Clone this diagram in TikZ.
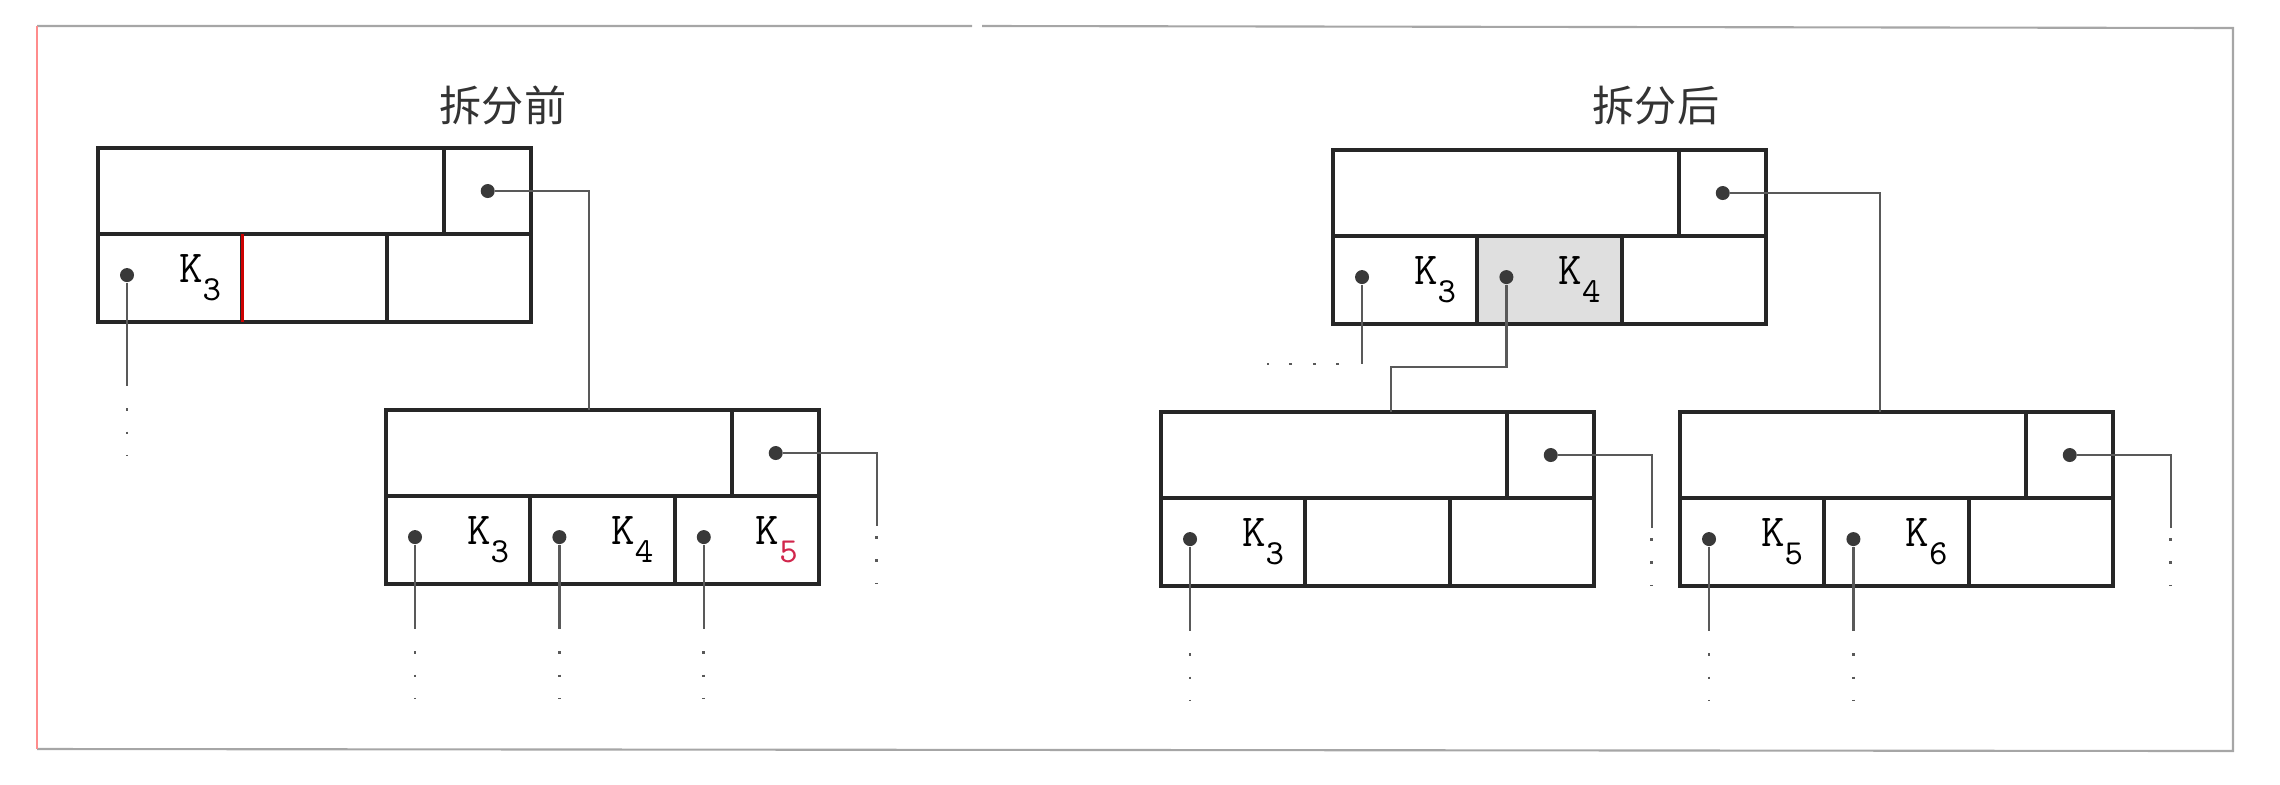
\documentclass[tikz,border=0pt]{standalone}
\usepackage{fontspec}
\usepackage{xcolor}
\newfontfamily\cjk{Noto Sans CJK SC}
\definecolor{keyred}{rgb}{0.82,0.15,0.30}
\definecolor{linkgray}{gray}{0.35}
\newcommand\kk[2][black]{{\ttfamily\fontsize{13}{13}\selectfont K\raisebox{-5.2pt}{\fontsize{10}{10}\selectfont\color{#1}#2}}}

\begin{document}
\begin{tikzpicture}[x=0.01cm, y=-0.01cm,
    cell/.style={draw=black!85, line width=1.1pt, inner sep=0pt, outer sep=0pt, anchor=north west},
    dot/.style={circle, fill=gray!45!black, inner sep=0pt, minimum size=0.14cm},
    keylab/.style={anchor=base, inner sep=0pt},
    ptr/.style={draw=linkgray, line width=0.7pt},
    tail/.style={draw=linkgray, line width=0.8pt, dash pattern=on 0.8pt off 5.86pt},
    title/.style={font=\cjk\fontsize{12}{12}\selectfont, text=black!80}]
\useasboundingbox (0,0) rectangle (2280,784);

% frame
\draw[gray!70, line width=0.6pt] (37,26) -- (972,26) (982,26) -- (2233,28) -- (2233,751) -- (37,749);
\draw[red!45, line width=0.6pt] (37,26) -- (37,749);

% titles
\node[title] (before) at (503,105) {拆分前};
\node[title] (after) at (1656,106) {拆分后};

% B-tree nodes: key area + pointer cell on top, three cells below
\foreach \n/\x/\y/\sh in {b1/98/148/white, b2/386/410/white, b3/1333/150/gray!25, b4/1161/412/white, b5/1680/412/white} {
  \node[cell, minimum width=3.46cm, minimum height=0.86cm] (\n-top) at (\x,\y) {};
  \node[cell, minimum width=0.87cm, minimum height=0.86cm] (\n-ptr) at (\n-top.north east) {};
  \node[cell, minimum width=1.443cm, minimum height=0.88cm] (\n-c1) at (\n-top.south west) {};
  \node[cell, minimum width=1.443cm, minimum height=0.88cm, fill=\sh] (\n-c2) at (\n-c1.north east) {};
  \node[cell, minimum width=1.443cm, minimum height=0.88cm] (\n-c3) at (\n-c2.north east) {};
  \node[dot] (\n-pd) at (\n-ptr.center) {};
}
\draw[red!80!black, line width=1pt] (b1-c1.north east) -- (b1-c1.south east);

% keys with their child pointers
\foreach \c/\k in {b1-c1/3, b2-c1/3, b2-c2/4, b3-c1/3, b3-c2/4, b4-c1/3, b5-c1/5, b5-c2/6} {
  \node[dot] (\c-dot) at ([xshift=0.29cm, yshift=0.03cm]\c.west) {};
  \node[keylab] (\c-key) at ([xshift=1.02cm, yshift=-0.04cm]\c.west) {\kk{\k}};
}
\node[dot] (b2-c3-dot) at ([xshift=0.29cm, yshift=0.03cm]b2-c3.west) {};
\node[keylab] (b2-c3-key) at ([xshift=1.02cm, yshift=-0.04cm]b2-c3.west) {\kk[keyred]{5}};

% before split
\draw[ptr] (b1-pd) -| ([xshift=2.03cm]b2-top.north west);
\draw[ptr] (b1-c1-dot) -- ++(0,111) coordinate (b1-c1-end);
\draw[tail] (b1-c1-end) ++(0,22) -- ++(0,48);

% after split
\draw[ptr] (b3-pd) -| ([xshift=2.0cm]b5-top.north west);
\draw[ptr] (b3-c2-dot) -- ++(0,90) -| ([xshift=2.3cm]b4-top.north west);
\draw[ptr] (b3-c1-dot) -- ++(0,87) coordinate (b3-c1-end);
\draw[tail] (b3-c1-end) ++(-23,0) -- ++(-72,0);

% downward child pointers
\foreach \d in {b2-c1, b2-c2, b2-c3, b4-c1, b5-c1, b5-c2} {
  \draw[ptr] (\d-dot) -- ++(0,92) coordinate (\d-end);
  \draw[tail] (\d-end) ++(0,22) -- ++(0,48);
}

% next-sibling pointers
\foreach \n in {b2, b4, b5} {
  \draw[ptr] (\n-pd) -- ++(101,0) -- ++(0,73) coordinate (\n-pe);
  \draw[tail] (\n-pe) ++(0,10) -- ++(0,48);
}

\end{tikzpicture}
\end{document}
